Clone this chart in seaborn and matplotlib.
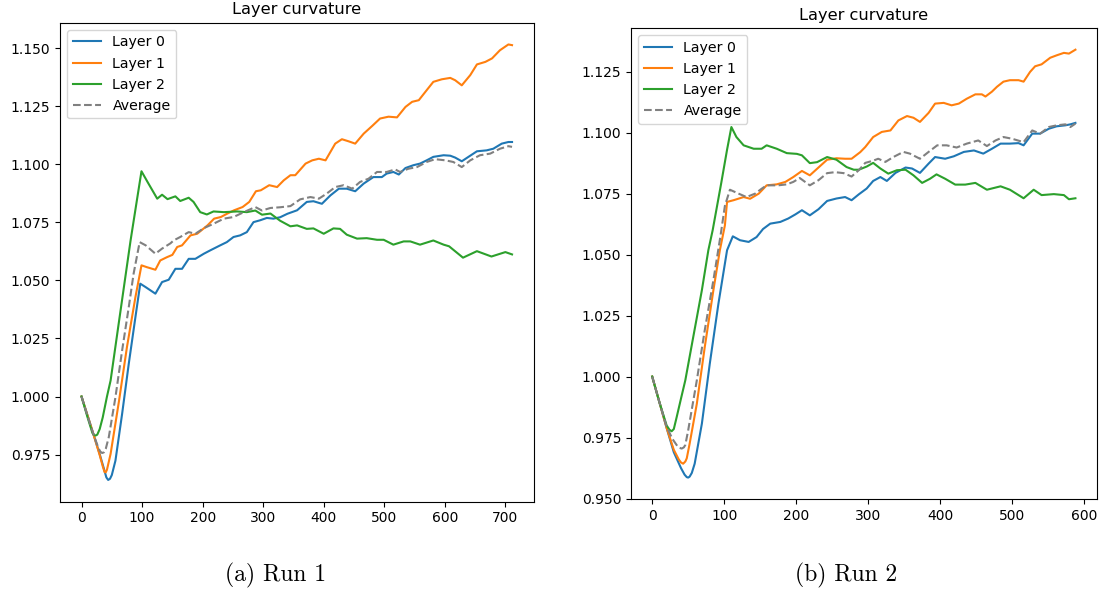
import matplotlib
matplotlib.use("Agg")
import matplotlib.pyplot as plt
import seaborn as sns

# ---------------- Run 1 ----------------
r1_l0_x = [0, 10, 20, 30, 38, 41, 44, 47, 50, 56, 67, 78, 89, 97, 106, 122, 133, 144, 155, 166, 177, 188,
           202, 213, 229, 240, 251, 262, 273, 284, 295, 306, 317, 328, 340, 356, 372, 383, 397, 411, 425, 438,
           452, 466, 482, 496, 504, 515, 524, 535, 548, 559, 570, 581, 598, 609, 617, 628, 639, 653, 669, 680,
           694, 705, 711]
r1_l0_y = [1.000, 0.9918, 0.9835, 0.9752, 0.9680, 0.9652, 0.9641, 0.9646, 0.9662, 0.9724, 0.9925, 1.0141,
           1.0342, 1.0486, 1.0471, 1.0443, 1.0493, 1.0503, 1.0550, 1.0550, 1.0593, 1.0593,
           1.0615, 1.0630, 1.0651, 1.0665, 1.0687, 1.0694, 1.0708, 1.0751, 1.0759, 1.0769,
           1.0766, 1.0772, 1.0787, 1.0802, 1.0838, 1.0841, 1.0830, 1.0866, 1.0895, 1.0895,
           1.0884, 1.0917, 1.0945, 1.0945, 1.0960, 1.0967, 1.0956, 1.0984, 1.0996, 1.1003,
           1.1017, 1.1032, 1.1039, 1.1037, 1.1029, 1.1013, 1.1032, 1.1056, 1.1060, 1.1067,
           1.1089, 1.1096, 1.1096]

r1_l1_x = [0, 10, 20, 30, 35, 38, 40, 42, 48, 62, 75, 89, 99, 108, 122, 130, 141, 150, 158, 166, 180,
           191, 208, 219, 230, 241, 252, 266, 277, 288, 296, 310, 323, 334, 345, 353, 370, 381, 392, 403, 419,
           430, 441, 452, 466, 480, 493, 507, 521, 535, 546, 557, 570, 581, 595, 609, 617, 628, 642, 653, 667,
           678, 691, 705, 711]
r1_l1_y = [1.000, 0.9918, 0.9835, 0.9748, 0.9700, 0.9675, 0.9674, 0.9685, 0.9753, 0.9983, 1.0213,
           1.0428, 1.0565, 1.0557, 1.0546, 1.0586, 1.0600, 1.0610, 1.0644, 1.0651, 1.0694,
           1.0701, 1.0737, 1.0766, 1.0773, 1.0788, 1.0802, 1.0816, 1.0838, 1.0884, 1.0888,
           1.0910, 1.0902, 1.0931, 1.0953, 1.0953, 1.1003, 1.1017, 1.1024, 1.1017, 1.1089,
           1.1108, 1.1099, 1.1089, 1.1132, 1.1165, 1.1197, 1.1205, 1.1202, 1.1247, 1.1269,
           1.1276, 1.1319, 1.1355, 1.1366, 1.1372, 1.1362, 1.1340, 1.1384, 1.1430, 1.1441,
           1.1456, 1.1491, 1.1516, 1.1513]

r1_l2_x = [0, 10, 18, 21, 23, 26, 30, 35, 42, 48, 60, 72, 81, 91, 99, 109, 117, 125, 133, 142, 155, 163,
           177, 185, 196, 207, 218, 235, 257, 273, 287, 298, 312, 328, 345, 356, 372, 383, 400, 416, 427, 438,
           455, 471, 488, 499, 515, 532, 543, 559, 581, 598, 607, 630, 653, 677, 700, 711]
r1_l2_y = [1.000, 0.9910, 0.9843, 0.9834, 0.9832, 0.9836, 0.9860, 0.9910, 1.0000, 1.0069, 1.0289, 1.0508,
           1.0672, 1.0838, 1.0970, 1.0924, 1.0888, 1.0852, 1.0869, 1.0850, 1.0862, 1.0842,
           1.0856, 1.0838, 1.0794, 1.0784, 1.0797, 1.0794, 1.0797, 1.0794, 1.0801, 1.0783,
           1.0788, 1.0757, 1.0733, 1.0737, 1.0722, 1.0724, 1.0701, 1.0724, 1.0722, 1.0697,
           1.0680, 1.0682, 1.0675, 1.0675, 1.0654, 1.0668, 1.0668, 1.0654, 1.0672, 1.0654,
           1.0647, 1.0598, 1.0626, 1.0603, 1.0622, 1.0612]

r1_avg_x = [0, 10, 20, 28, 31, 34, 37, 40, 45, 56, 67, 78, 86, 96, 106, 122, 133, 147, 152, 163, 177, 188,
            202, 218, 235, 251, 268, 287, 298, 312, 328, 345, 361, 378, 392, 405, 419, 433, 447, 460, 474, 488,
            504, 518, 526, 540, 554, 570, 584, 601, 614, 628, 642, 658, 675, 691, 705, 711]
r1_avg_y = [1.000, 0.9915, 0.9835, 0.9778, 0.9763, 0.9757, 0.9760, 0.9775, 0.9825, 0.9997, 1.0198, 1.0385,
            1.0529, 1.0665, 1.0651, 1.0615, 1.0637, 1.0660, 1.0672, 1.0687, 1.0708, 1.0701,
            1.0725, 1.0744, 1.0766, 1.0773, 1.0794, 1.0816, 1.0801, 1.0812, 1.0815, 1.0820,
            1.0849, 1.0859, 1.0852, 1.0874, 1.0902, 1.0910, 1.0895, 1.0924, 1.0938, 1.0967,
            1.0967, 1.0978, 1.0967, 1.0981, 1.0988, 1.1010, 1.1022, 1.1017, 1.1010, 1.0988,
            1.1017, 1.1039, 1.1046, 1.1067, 1.1078, 1.1075]

# ---------------- Run 2 ----------------
r2_l0_x = [0, 10, 20, 30, 40, 45, 48, 50, 52, 55, 59, 69, 80, 92, 104, 112, 122, 134, 145, 154, 164, 178,
           189, 199, 208, 219, 231, 243, 256, 268, 277, 287, 298, 307, 317, 326, 338, 352, 361, 372, 384, 393,
           407, 419, 433, 447, 460, 472, 484, 497, 509, 516, 528, 539, 551, 562, 574, 581, 588]
r2_l0_y = [1.000, 0.9895, 0.9790, 0.9690, 0.9625, 0.9598, 0.9588, 0.9586, 0.9590, 0.9605, 0.9643, 0.9807,
           1.0053, 1.0299, 1.0518, 1.0575, 1.0559, 1.0552, 1.0572, 1.0605, 1.0627, 1.0634,
           1.0648, 1.0665, 1.0682, 1.0661, 1.0686, 1.0720, 1.0730, 1.0736, 1.0723, 1.0747,
           1.0771, 1.0802, 1.0818, 1.0802, 1.0835, 1.0857, 1.0853, 1.0835, 1.0873, 1.0900,
           1.0893, 1.0903, 1.0921, 1.0927, 1.0914, 1.0934, 1.0955, 1.0955, 1.0957, 1.0948,
           1.0996, 1.0996, 1.1016, 1.1026, 1.1030, 1.1034, 1.1040]

r2_l1_x = [0, 10, 20, 30, 37, 40, 43, 46, 48, 52, 62, 73, 85, 94, 101, 104, 113, 127, 136, 148, 159, 173,
           185, 196, 208, 219, 231, 243, 256, 268, 277, 289, 296, 307, 319, 331, 342, 354, 363, 372, 384, 393,
           405, 416, 426, 437, 449, 458, 463, 472, 479, 488, 497, 509, 516, 525, 532, 541, 553, 562, 572, 579,
           588]
r2_l1_y = [1.000, 0.9895, 0.9790, 0.9700, 0.9660, 0.9648, 0.9643, 0.9652, 0.9665, 0.9725, 0.9889, 1.0121,
           1.0354, 1.0518, 1.0620, 1.0716, 1.0723, 1.0736, 1.0729, 1.0750, 1.0784, 1.0788,
           1.0798, 1.0818, 1.0843, 1.0825, 1.0857, 1.0889, 1.0895, 1.0893, 1.0893, 1.0920,
           1.0941, 1.0982, 1.1003, 1.1009, 1.1050, 1.1068, 1.1061, 1.1044, 1.1081, 1.1119,
           1.1122, 1.1112, 1.1119, 1.1139, 1.1157, 1.1157, 1.1148, 1.1168, 1.1188, 1.1209,
           1.1215, 1.1215, 1.1209, 1.1249, 1.1272, 1.1280, 1.1307, 1.1317, 1.1327, 1.1324,
           1.1340]

r2_l2_x = [0, 10, 20, 24, 27, 30, 34, 40, 46, 57, 69, 78, 84, 96, 104, 110, 117, 127, 141, 152, 159, 173,
           187, 201, 208, 219, 229, 243, 256, 270, 280, 287, 298, 307, 317, 328, 340, 352, 363, 375, 386, 395,
           407, 421, 435, 449, 465, 484, 497, 516, 530, 541, 558, 572, 579, 588]
r2_l2_y = [1.000, 0.9895, 0.9800, 0.9782, 0.9776, 0.9785, 0.9834, 0.9910, 0.9985, 1.0162, 1.0354, 1.0518,
           1.0600, 1.0795, 1.0930, 1.1023, 1.0982, 1.0948, 1.0934, 1.0934, 1.0948, 1.0934,
           1.0916, 1.0913, 1.0907, 1.0875, 1.0879, 1.0900, 1.0889, 1.0859, 1.0848, 1.0848,
           1.0861, 1.0876, 1.0853, 1.0832, 1.0846, 1.0848, 1.0825, 1.0794, 1.0811, 1.0829,
           1.0811, 1.0787, 1.0787, 1.0794, 1.0766, 1.0780, 1.0766, 1.0731, 1.0766, 1.0744,
           1.0748, 1.0744, 1.0727, 1.0731]

r2_avg_x = [0, 10, 20, 28, 35, 38, 41, 44, 46, 50, 62, 73, 85, 95, 101, 108, 120, 131, 143, 152, 159, 175,
            187, 196, 205, 219, 231, 243, 254, 266, 277, 287, 296, 307, 314, 324, 335, 349, 358, 372, 384, 396,
            409, 423, 437, 453, 465, 477, 488, 500, 516, 528, 539, 551, 562, 574, 581, 588]
r2_avg_y = [1.000, 0.9895, 0.9795, 0.9745, 0.9715, 0.9708, 0.9705, 0.9710, 0.9720, 0.9780, 0.9985, 1.0190,
            1.0395, 1.0579, 1.0700, 1.0766, 1.0750, 1.0736, 1.0750, 1.0770, 1.0784, 1.0784,
            1.0788, 1.0798, 1.0814, 1.0784, 1.0805, 1.0834, 1.0838, 1.0834, 1.0820, 1.0846,
            1.0876, 1.0885, 1.0893, 1.0880, 1.0900, 1.0921, 1.0914, 1.0893, 1.0921, 1.0948,
            1.0948, 1.0939, 1.0955, 1.0968, 1.0945, 1.0968, 1.0982, 1.0975, 1.0961, 1.1009,
            1.0996, 1.1023, 1.1030, 1.1034, 1.1023, 1.1037]

series_labels = ["Layer 0", "Layer 1", "Layer 2", "Average"]
title_text = "Layer curvature"
captions = ["(a) Run 1", "(b) Run 2"]

plt.rcParams["font.size"] = 10
plt.rcParams["font.family"] = ["DejaVu Sans"]

fig = plt.figure(figsize=(10.99, 5.92), dpi=100)
ax1 = fig.add_axes([0.0546, 0.1525, 0.4309, 0.8092])
ax2 = fig.add_axes([0.5742, 0.1571, 0.4236, 0.7951])

runs = [
    (ax1, [(r1_l0_x, r1_l0_y), (r1_l1_x, r1_l1_y), (r1_l2_x, r1_l2_y), (r1_avg_x, r1_avg_y)]),
    (ax2, [(r2_l0_x, r2_l0_y), (r2_l1_x, r2_l1_y), (r2_l2_x, r2_l2_y), (r2_avg_x, r2_avg_y)]),
]
colors = ["#1f77b4", "#ff7f0e", "#2ca02c", "gray"]
styles = ["-", "-", "-", "--"]

for ax, data in runs:
    for (xs, ys), lab, col, ls in zip(data, series_labels, colors, styles):
        sns.lineplot(x=xs, y=ys, ax=ax, color=col, linestyle=ls, linewidth=1.5,
                     label=lab, errorbar=None, sort=True)
    ax.set_title(title_text, fontsize=11.7)
    ax.legend(loc="upper left", fontsize=10.2)
    ax.set_xlabel("")
    ax.set_ylabel("")
    ax.yaxis.set_major_formatter(matplotlib.ticker.FormatStrFormatter("%.3f"))

ax1.set_yticks([0.975, 1.0, 1.025, 1.05, 1.075, 1.1, 1.125, 1.15])
ax2.set_yticks([0.95, 0.975, 1.0, 1.025, 1.05, 1.075, 1.1, 1.125])

fig.text(275.4 / 1099, 1 - 575 / 592, captions[0], ha="center", va="center",
         fontsize=17, family=["cmr10", "DejaVu Serif"])
fig.text(846.6 / 1099, 1 - 575 / 592, captions[1], ha="center", va="center",
         fontsize=17, family=["cmr10", "DejaVu Serif"])

fig.savefig("out.png", dpi=100)
